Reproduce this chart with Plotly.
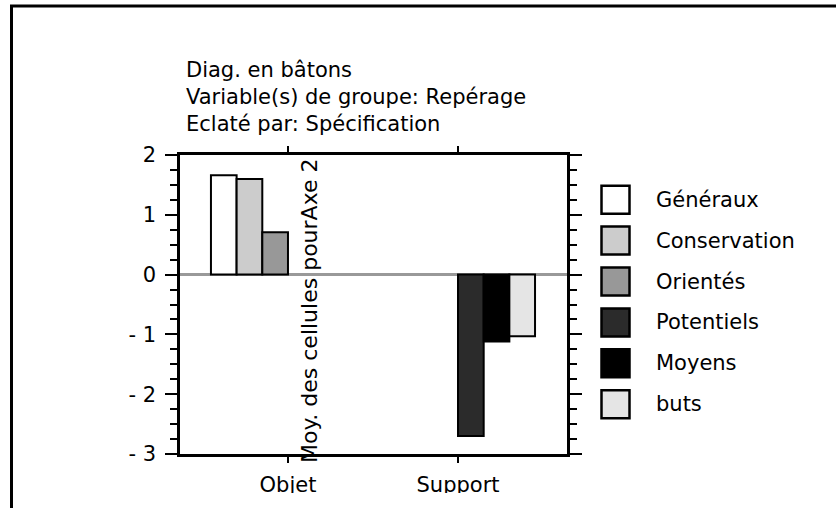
import plotly.graph_objects as go

# ---- data -------------------------------------------------------------
categories = ["Objet", "Support"]
series_names = ["Généraux", "Conservation", "Orientés", "Potentiels", "Moyens", "buts"]
generaux = [1.66, None]
conservation = [1.60, None]
orientes = [0.71, None]
potentiels = [None, -2.70]
moyens = [None, -1.12]
buts = [None, -1.03]
series_values = [generaux, conservation, orientes, potentiels, moyens, buts]

y_tick_values = [2, 1, 0, -1, -2, -3]
y_tick_labels = ["2", "1", "0", "- 1", "- 2", "- 3"]

title_lines = ["Diag. en bâtons",
               "Variable(s) de groupe: Repérage",
               "Eclaté par: Spécification"]
y_title = "Moy. des cellules pourAxe 2"

# ---- style ------------------------------------------------------------
fill_colors = ["#ffffff", "#cccccc", "#989898", "#2b2b2b", "#000000", "#e5e5e5"]
FONT = "DejaVu Sans"
FS = 21

W, H = 836, 508
PL, PR, PT, PB = 180, 567, 155, 454   # plot area in pixels


def px_x(px):
    return (px - PL) / (PR - PL)


def px_y(py):
    return (PB - py) / (PB - PT)


fig = go.Figure()
for name, vals, col in zip(series_names, series_values, fill_colors):
    fig.add_trace(go.Bar(
        x=categories, y=vals, name=name,
        marker=dict(color=col, line=dict(color="black", width=2)),
        showlegend=False,
    ))

axis_common = dict(
    showline=True, linecolor="black", linewidth=2.5,
    ticks="outside", tickcolor="black", tickwidth=2,
    mirror="ticks", showgrid=False, automargin=False,
    tickfont=dict(family=FONT, size=FS, color="black"),
)

fig.update_xaxes(
    **axis_common,
    type="category", range=[-0.635, 1.641], ticklen=6,
    ticklabelstandoff=4, zeroline=False,
)
fig.update_yaxes(
    **axis_common,
    range=[-3, 2], tickvals=y_tick_values, ticktext=y_tick_labels,
    ticklen=12, ticklabelstandoff=5,
    minor=dict(dtick=0.25, ticks="outside", ticklen=7, tickwidth=2, tickcolor="black"),
    zeroline=True, zerolinecolor="#999999", zerolinewidth=2.5,
)

shapes = []
annotations = []

# frame around the page
shapes.append(dict(type="line", xref="paper", yref="paper",
                   x0=px_x(11.5), x1=px_x(11.5), y0=px_y(5), y1=px_y(520),
                   line=dict(color="black", width=3), layer="above"))
shapes.append(dict(type="line", xref="paper", yref="paper",
                   x0=px_x(10), x1=px_x(850), y0=px_y(6), y1=px_y(6),
                   line=dict(color="black", width=3), layer="above"))

# page edge cuts the category labels
shapes.append(dict(type="rect", xref="paper", yref="paper",
                   x0=px_x(14), x1=px_x(850), y0=px_y(493), y1=px_y(520),
                   fillcolor="white", line=dict(width=0), layer="above"))

# title block
for i, line in enumerate(title_lines):
    annotations.append(dict(
        text=line, xref="paper", yref="paper",
        x=px_x(184), y=px_y(70 + i * 27), xanchor="left", yanchor="middle",
        showarrow=False, font=dict(family=FONT, size=FS, color="black"),
    ))

# vertical axis title
annotations.append(dict(
    text=y_title, xref="paper", yref="paper",
    x=px_x(309), y=px_y(311), textangle=-90,
    xanchor="center", yanchor="middle", showarrow=False,
    font=dict(family=FONT, size=22, color="black"),
))

# legend: swatches and names
for i, (name, col) in enumerate(zip(series_names, fill_colors)):
    yc = 199.7 + i * 40.9
    shapes.append(dict(type="rect", xref="paper", yref="paper",
                       x0=px_x(601.5), x1=px_x(629.5),
                       y0=px_y(yc + 14), y1=px_y(yc - 14),
                       fillcolor=col, line=dict(color="black", width=2.5)))
    annotations.append(dict(
        text=name, xref="paper", yref="paper",
        x=px_x(654), y=px_y(yc), xanchor="left", yanchor="middle",
        showarrow=False, font=dict(family=FONT, size=FS, color="black"),
    ))

fig.update_layout(
    width=W, height=H, autosize=False,
    margin=dict(l=PL, r=W - PR, t=PT, b=H - PB, pad=0),
    barmode="group", bargap=0.094, bargroupgap=0,
    paper_bgcolor="white", plot_bgcolor="white",
    shapes=shapes, annotations=annotations,
    font=dict(family=FONT, size=FS, color="black"),
)

fig.write_html("out.html")
